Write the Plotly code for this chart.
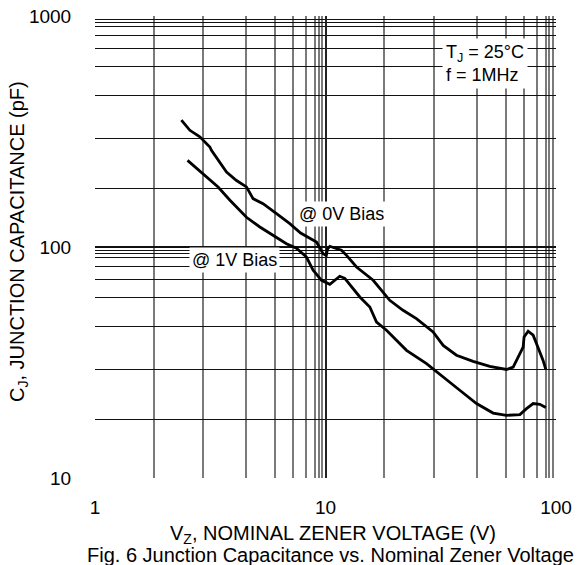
import plotly.graph_objects as go

# ---- data ----
vz_0v = [2.37, 2.58, 2.85, 3.15, 3.20, 3.42, 3.72, 4.11, 4.54, 4.85, 5.36, 6.13, 7.0, 7.8,
         9.14, 9.76, 10.08, 10.2, 10.44, 10.97, 11.73, 12.34, 13.63, 16.1, 19.0, 21.7,
         24.8, 29.3, 32.4, 37.0, 43.7, 51.6, 61.0, 65.2, 69.7, 72.0, 72.7, 75.7, 79.6,
         83.6, 87.9, 90.3]
cj_0v = [354, 320, 300, 271, 262, 237, 211, 194, 182, 162, 154, 139.5, 126.3, 115,
         105, 93.6, 92, 98, 100.7, 99, 96.8, 92, 81.9, 71.8, 58.8, 53.2,
         49, 42.9, 37.5, 34.0, 32.0, 30.4, 29.5, 30.2, 34.6, 36.9, 40.8, 43.2, 41.5,
         36.9, 32.3, 29.5]

vz_1v = [2.52, 2.94, 3.42, 3.85, 4.18, 4.54, 5.19, 5.93, 6.77, 7.48, 8.27, 8.84, 9.61,
         10.44, 10.97, 11.53, 12.13, 12.97, 14.09, 15.57, 16.65, 18.39, 22.46, 27.43,
         33.5, 38.24, 45.2, 53.35, 61.0, 69.7, 74.5, 79.6, 85.1, 90.3]
cj_1v = [237, 206.4, 181.8, 159.3, 146.6, 134.5, 122.1, 112.4, 103.4, 98.7, 90.5, 79.3, 71.75,
         68.95, 71.75, 74.7, 73.2, 67.1, 60.75, 55.0, 47.3, 43.6, 35.7, 31.27,
         26.5, 23.98, 21.0, 19.1, 18.68, 18.82, 19.97, 21.0, 20.85, 20.18]

x_ticks = [1, 10, 100]
x_tick_text = ["1", "10", "100"]
y_ticks = [10, 100, 1000]
y_tick_text = ["10", "100", "1000"]
# sub-decade grid positions (fraction of a decade) as drawn on the chart
grid_frac = [0.255, 0.469, 0.657, 0.782, 0.861, 0.917, 0.956, 0.97, 0.985]

x_minor = [10 ** (d + f) for d in (0, 1) for f in grid_frac]
y_minor = [10 ** (d + f) for d in (1, 2) for f in grid_frac]

FONT = "Liberation Sans, Arial, sans-serif"

L, R, T, B = 95, 556, 16, 478
W, H = R - L, B - T


def px(x):
    return (x - L) / W


def py(y):
    return (B - y) / H


fig = go.Figure()
fig.add_trace(go.Scatter(x=vz_0v, y=cj_0v, mode="lines",
                         line=dict(color="black", width=2.8), showlegend=False))
fig.add_trace(go.Scatter(x=vz_1v, y=cj_1v, mode="lines",
                         line=dict(color="black", width=2.8), showlegend=False))

fig.update_layout(
    width=579, height=565,
    margin=dict(l=L, r=579 - R, t=T, b=565 - B, autoexpand=False),
    paper_bgcolor="white", plot_bgcolor="white",
    font=dict(family=FONT, color="black", size=19),
    xaxis=dict(
        type="log", range=[0, 2], automargin=False,
        tickmode="array", tickvals=x_ticks, ticktext=x_tick_text,
        showgrid=True, gridcolor="#222222", gridwidth=1.8,
        zeroline=False, showline=False,
        ticks="outside", ticklen=12, tickcolor="rgba(0,0,0,0)",
        tickfont=dict(size=19),
        minor=dict(tickmode="array", tickvals=x_minor, showgrid=True,
                   gridcolor="#7a7a7a", gridwidth=1.5, ticks=""),
        fixedrange=True,
    ),
    yaxis=dict(
        type="log", range=[1, 3], automargin=False,
        tickmode="array", tickvals=y_ticks, ticktext=y_tick_text,
        showgrid=True, gridcolor="#111111", gridwidth=1.6,
        zeroline=False, showline=False,
        ticks="outside", ticklen=19, tickcolor="rgba(0,0,0,0)",
        tickfont=dict(size=19),
        minor=dict(tickmode="array", tickvals=y_minor, showgrid=True,
                   gridcolor="#111111", gridwidth=1.3, ticks=""),
        fixedrange=True,
    ),
    annotations=[
        dict(text="T<sub>J</sub> = 25°C<br>f = 1MHz", xref="paper", yref="paper",
             x=px(442), y=py(63), xanchor="left", yanchor="middle",
             align="left", showarrow=False, bgcolor="white", borderpad=3,
             font=dict(size=18)),
        dict(text="@ 0V Bias", xref="paper", yref="paper",
             x=px(341), y=py(214), xanchor="center", yanchor="middle",
             showarrow=False, bgcolor="white", borderpad=2, font=dict(size=18)),
        dict(text="@ 1V Bias", xref="paper", yref="paper",
             x=px(234), y=py(260), xanchor="center", yanchor="middle",
             showarrow=False, bgcolor="white", borderpad=2, font=dict(size=18)),
        dict(text="V<sub>Z</sub>, NOMINAL ZENER VOLTAGE (V)", xref="paper", yref="paper",
             x=px(333), y=py(534), xanchor="center", yanchor="middle",
             showarrow=False, font=dict(size=20)),
        dict(text="C<sub>J</sub>, JUNCTION CAPACITANCE (pF)", xref="paper", yref="paper",
             x=px(18), y=py(242), xanchor="center", yanchor="middle", textangle=-90,
             showarrow=False, font=dict(size=20)),
        dict(text="Fig. 6 Junction Capacitance vs. Nominal Zener Voltage", xref="paper", yref="paper",
             x=px(330), y=py(555), xanchor="center", yanchor="middle",
             showarrow=False, font=dict(size=20)),
    ],
)

fig.write_html("out.html", config={"displayModeBar": False},
               post_script="document.body.style.margin='0px';document.body.style.padding='0px';")
